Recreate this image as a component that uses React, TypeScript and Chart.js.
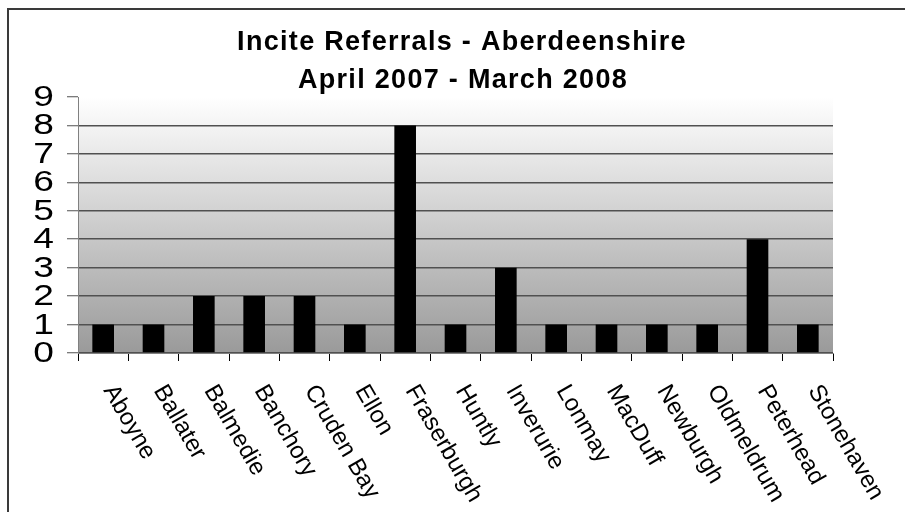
import React, { useEffect, useRef } from "react";
import { Chart, registerables } from "chart.js";

Chart.register(...registerables);

const categories = [
  "Aboyne", "Ballater", "Balmedie", "Banchory", "Cruden Bay", "Ellon",
  "Fraserburgh", "Huntly", "Inverurie", "Lonmay", "MacDuff", "Newburgh",
  "Oldmeldrum", "Peterhead", "Stonehaven",
];
const referrals = [1, 1, 2, 2, 2, 1, 8, 1, 3, 1, 1, 1, 1, 4, 1];
const titleLines = ["Incite Referrals - Aberdeenshire", "April 2007 - March 2008"];
const yMin = 0;
const yMax = 9;
const yStep = 1;

const FONT = "'Liberation Sans', Arial, sans-serif";

export default function App() {
  const ref = useRef<HTMLCanvasElement | null>(null);

  useEffect(() => {
    const canvas = ref.current;
    if (!canvas) return;

    const decor = {
      id: "decor",
      beforeDraw(chart: any) {
        const { ctx, chartArea } = chart;
        ctx.save();
        ctx.fillStyle = "#ffffff";
        ctx.fillRect(0, 0, chart.width, chart.height);
        const g = ctx.createLinearGradient(0, chartArea.top, 0, chartArea.bottom);
        g.addColorStop(0, "#ffffff");
        g.addColorStop(1, "#9a9a9a");
        ctx.fillStyle = g;
        ctx.fillRect(chartArea.left, chartArea.top, chartArea.right - chartArea.left, chartArea.bottom - chartArea.top);
        ctx.restore();
      },
      afterDraw(chart: any) {
        const { ctx, chartArea } = chart;
        const xs = chart.scales.x;
        const ys = chart.scales.y;
        ctx.save();
        // frame
        ctx.strokeStyle = "#3a3a3a";
        ctx.lineWidth = 2;
        ctx.strokeRect(8, 9, 2000, 2000);
        // title
        ctx.fillStyle = "#000";
        ctx.font = `bold 27px ${FONT}`;
        (ctx as any).letterSpacing = "1.3px";
        ctx.textAlign = "center";
        ctx.textBaseline = "middle";
        ctx.fillText(titleLines[0], 462, 43);
        ctx.fillText(titleLines[1], 463, 81);
        (ctx as any).letterSpacing = "0px";
        // y labels (horizontally widened like the reference)
        ctx.font = `29px ${FONT}`;
        ctx.textAlign = "right";
        ctx.textBaseline = "middle";
        ys.ticks.forEach((t: any) => {
          const y = ys.getPixelForValue(t.value);
          ctx.save();
          ctx.translate(chartArea.left - 24, y + 1);
          ctx.scale(1.28, 1);
          ctx.fillText(String(t.value), 0, 0);
          ctx.restore();
        });
        // x labels
        ctx.font = `24px ${FONT}`;
        ctx.textAlign = "left";
        ctx.textBaseline = "top";
        categories.forEach((c, i) => {
          const x = xs.getPixelForValue(i);
          ctx.save();
          ctx.translate(x + 16, chartArea.bottom + 28);
          ctx.rotate((60 * Math.PI) / 180);
          ctx.fillText(c, 0, 0);
          ctx.restore();
        });
        ctx.restore();
      },
    };

    const chart = new Chart(canvas, {
      type: "bar",
      data: {
        labels: categories,
        datasets: [
          {
            data: referrals,
            backgroundColor: "#000000",
            borderWidth: 0,
            barPercentage: 0.43,
            categoryPercentage: 1,
          },
        ],
      },
      options: {
        animation: false,
        responsive: false,
        devicePixelRatio: 1,
        layout: { padding: { top: 97, right: 72, bottom: 0, left: 0 } },
        plugins: { legend: { display: false }, title: { display: false }, tooltip: { enabled: false } },
        scales: {
          x: {
            afterFit: (s: any) => { s.height = 159; },
            ticks: { display: false },
            grid: {
              offset: true,
              drawOnChartArea: false,
              drawTicks: true,
              tickLength: 8,
              tickColor: "#000",
              tickWidth: 1,
            },
            border: { display: true, color: "#808080", width: 1 },
          },
          y: {
            min: yMin,
            max: yMax,
            afterFit: (s: any) => { s.width = 78; },
            ticks: {
              stepSize: yStep,
              autoSkip: false,
              display: false,
            },
            grid: {
              color: (c: any) => (c.tick && c.tick.value === yMax ? "rgba(0,0,0,0)" : "#505050"),
              lineWidth: 1.5,
              tickColor: "#505050",
              tickLength: 11,
              tickWidth: 1,
            },
            border: { display: true, color: "#808080", width: 1 },
          },
        },
      },
      plugins: [decor],
    } as any);

    return () => chart.destroy();
  }, []);

  return (
    <div style={{ position: "fixed", left: 0, top: 0, width: 905, height: 512, background: "#fff" }}>
      <canvas ref={ref} width={905} height={512} style={{ display: "block" }} />
    </div>
  );
}
